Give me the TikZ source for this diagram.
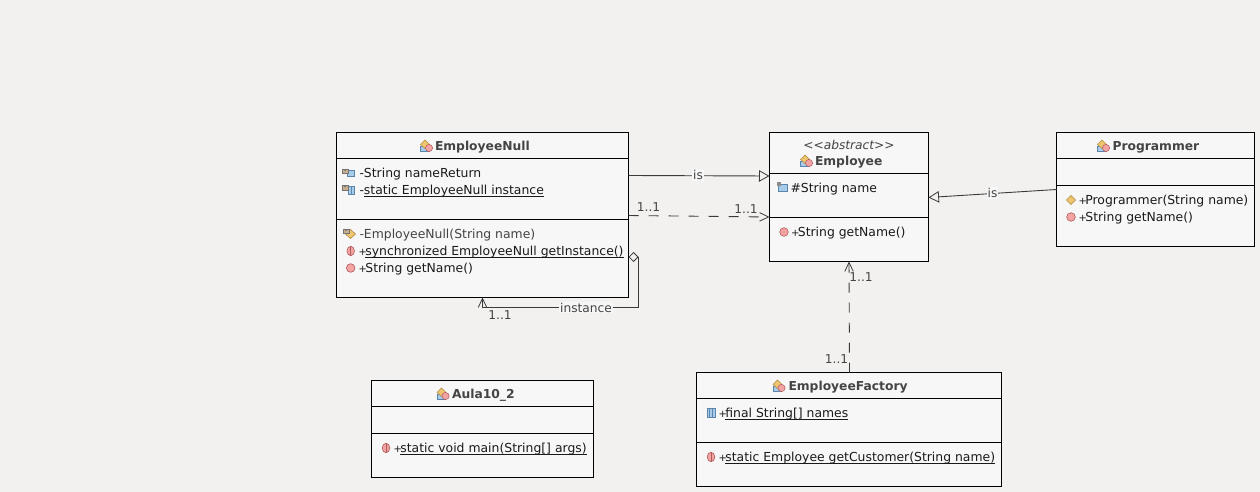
\documentclass[tikz,border=0pt]{standalone}
\usepackage{fontspec}
\setmainfont{DejaVu Sans}
\usetikzlibrary{arrows.meta,calc}
\definecolor{bgc}{HTML}{F2F1EF}
\definecolor{boxc}{HTML}{F7F7F7}
\definecolor{linec}{HTML}{3A3A3A}
\definecolor{textc}{HTML}{1A1A1A}
\definecolor{titlec}{HTML}{444444}
\definecolor{icoblue}{HTML}{A9CBEA}
\definecolor{icoblued}{HTML}{5A86AE}
\definecolor{icoyel}{HTML}{EFC56F}
\definecolor{icoyeld}{HTML}{B08A3C}
\definecolor{icored}{HTML}{F2A3A3}
\definecolor{icoredd}{HTML}{B05A5A}
\definecolor{icotan}{HTML}{C9B08E}
\newcommand{\ulx}[1]{\leavevmode\setbox0\hbox{#1}\rlap{#1}\rule[-2.4pt]{\wd0}{0.9pt}}
\newcommand{\plusk}{{\fontsize{10}{12}\selectfont +}\kern-1.5pt }
\newcommand{\umlbox}[7]{%
  \pgfmathsetlengthmacro{\bw}{#4-#2}\pgfmathsetlengthmacro{\bh}{#5-#3}%
  \node[umlclass,minimum width=\bw,minimum height=\bh] (#1) at (#2,#3) {};
  \draw[umlline] (#1.west |- 0,#6) -- (#1.east |- 0,#6);
  \draw[umlline] (#1.west |- 0,#7) -- (#1.east |- 0,#7);
}
\tikzset{
  umlclass/.style={draw=black,fill=boxc,line width=1pt,anchor=north west,inner sep=0pt,outer sep=0pt,rectangle},
  umlline/.style={draw=black,line width=1pt},
  member/.style={anchor=base west,inner sep=0pt,outer sep=0pt,text=textc,font=\fontsize{12.4}{14}\selectfont},
  graymember/.style={member,text=titlec},
  title/.style={anchor=base west,inner sep=0pt,outer sep=0pt,text=titlec,font=\fontsize{12.3}{14}\selectfont\bfseries},
  stereo/.style={anchor=base,inner sep=0pt,outer sep=0pt,text=titlec,font=\fontsize{12.2}{14}\selectfont\itshape},
  conlabel/.style={inner sep=1pt,outer sep=0pt,text=titlec,font=\fontsize{12.2}{14}\selectfont},
  conlabelbg/.style={conlabel,fill=boxc},
  conn/.style={draw=linec,line width=.9pt},
  genline/.style={conn,-{Triangle[open,length=10.5pt,width=11.5pt,line width=.8pt]}},
  depline/.style={conn,dash pattern=on 10pt off 10pt,-{Straight Barb[length=9pt,width=8.5pt,line width=.8pt]}},
  aggline/.style={conn,{Diamond[open,length=10pt,width=10pt,line width=.8pt]}-{Straight Barb[length=9pt,width=8.5pt,line width=.8pt]}},
  pics/clsicon/.style={code={
    \fill[icoblue,draw=icoblued,line width=.5pt] (-6,0) rectangle (2.5,5.5);
    \fill[icoyel,draw=icoyeld,line width=.5pt] (-1.5,-6) -- (3,-1.5) -- (-1.5,2.5) -- (-6,-1.5) -- cycle;
    \fill[icored,draw=icoredd,line width=.5pt] (2.5,2) circle (3.6);
  }},
  pics/mpub/.style={code={\fill[icored,draw=icoredd,line width=.6pt] (0,0) circle (4.3);}},
  pics/mstatic/.style={code={
    \fill[icored,draw=icoredd,line width=.6pt] (0,0) ellipse (3.8 and 4.7);
    \draw[icoredd,line width=.5pt] (0,-4.2) -- (0,4.2);
  }},
  pics/ctorpub/.style={code={\fill[icoyel,draw=icoyeld,line width=.6pt] (0,-4.5) -- (4.5,0) -- (0,4.5) -- (-4.5,0) -- cycle;}},
  pics/lockhead/.style={code={
    \fill[icotan,draw=black!55,line width=.5pt] (-2.8,-2.5) rectangle (2.8,2);
    \draw[black!55,line width=.7pt] (-1.6,-2.5) arc[start angle=180,end angle=0,radius=1.6];
  }},
  pics/ffield/.style={code={
    \fill[icoblue,draw=icoblued,line width=.6pt] (-4,-4.5) rectangle (4,4.5);
    \draw[icoblued,line width=.6pt] (-1.3,-4.5) -- (-1.3,4.5) (1.3,-4.5) -- (1.3,4.5);
  }},
  pics/privfield/.style={code={
    \fill[icoblue,draw=icoblued,line width=.6pt] (-1,-2.5) rectangle (6.5,4);
    \pic at (-3,-1) {lockhead};
  }},
  pics/privstatic/.style={code={
    \fill[icoblue,draw=icoblued,line width=.6pt] (0,-3.5) rectangle (6,5);
    \draw[icoblued,line width=.6pt] (3,-3.5) -- (3,5);
    \pic at (-3,-1.5) {lockhead};
  }},
  pics/protfield/.style={code={
    \fill[icoblue,draw=icoblued,line width=.6pt] (-3.5,-3) rectangle (5,4.5);
    \fill[black!45] (-5,-5) rectangle (-1.5,-1.5);
  }},
  pics/ctorpriv/.style={code={
    \fill[icoyel,draw=icoyeld,line width=.6pt] (1.5,-3.5) -- (6.5,1) -- (1.5,5.5) -- (-3.5,1) -- cycle;
    \pic at (-3,-1.5) {lockhead};
  }},
}
\begin{document}
\begin{tikzpicture}[x=1pt,y=-1pt]
\useasboundingbox[fill=bgc] (0,0) rectangle (1260,492);
% --- class boxes
\umlbox{en}{336.5}{132.5}{628.5}{297.5}{158.5}{219.5}
\umlbox{em}{769.5}{132.5}{928.5}{261.5}{173.5}{217.5}
\umlbox{pr}{1056.5}{132.5}{1254.5}{246.5}{158.5}{185.5}
\umlbox{fa}{696.5}{372.5}{1001.5}{486.5}{398.5}{442.5}
\umlbox{au}{371.5}{380.5}{593.5}{477.5}{406.5}{433.5}
% --- connectors
\draw[genline] (en.east |- 0,175.5) -- (em.west |- 0,176);
\draw[genline] (pr.west |- 0,189.5) -- (em.east |- 0,197.5);
\draw[depline] (en.east |- 0,215.5) -- (em.west |- 0,217);
\draw[depline] (fa.north -| 849.5,0) -- (em.south -| 849,0);
\draw[aggline] (en.east |- 0,257) -- (638.5,257) -- (638.5,307.5) -- (482.5,307.5) -- (en.south -| 482.5,0);
% --- connector labels
\node[conlabelbg] (l1) at (698,175) {is};
\node[conlabelbg] (l2) at (992.5,193) {is};
\node[conlabelbg] (l3) at (586,307.5) {instance};
\node[conlabel] (l4) at (648.5,207.5) {1..1};
\node[conlabel] (l5) at (746,209) {1..1};
\node[conlabel] (l6) at (500,315.5) {1..1};
\node[conlabel] (l7) at (861,277.5) {1..1};
\node[conlabel] (l8) at (836.5,359) {1..1};
% --- titles
\pic at (426.5,146) {clsicon};
\node[title] (t1) at (435,150) {EmployeeNull};
\node[stereo] (t2s) at (849,149.5) {<{}<abstract>{}>};
\pic at (806.5,161) {clsicon};
\node[title] (t2) at (815,165) {Employee};
\pic at (1103.5,146) {clsicon};
\node[title] (t3) at (1112.5,150) {Programmer};
\pic at (779,386) {clsicon};
\node[title] (t4) at (788.5,390) {EmployeeFactory};
\pic at (443,394) {clsicon};
\node[title] (t5) at (452,398) {Aula10\_2};
% --- EmployeeNull members
\pic at (348,172.5) {privfield};
\node[member] (m1) at (359.5,177) {-String nameReturn};
\pic at (348,189.5) {privstatic};
\node[member] (m2) at (359.5,194) {-\ulx{static EmployeeNull instance}};
\pic at (349,233) {ctorpriv};
\node[graymember] (m3) at (359.5,238) {-EmployeeNull(String name)};
\pic at (350.7,251) {mstatic};
\node[member] (m4) at (358.5,255) {\plusk\ulx{synchronized EmployeeNull getInstance()}};
\pic at (350.7,268) {mpub};
\node[member] (m5) at (358.5,272) {\plusk String getName()};
% --- Employee members
\pic at (782,187) {protfield};
\node[member] (m6) at (790.5,192) {\#String name};
\pic at (784,232) {mpub};
\node[member] (m7) at (791,236) {\plusk String getName()};
% --- Programmer members
\pic at (1071,200) {ctorpub};
\node[member] (m8) at (1078.5,204) {\plusk Programmer(String name)};
\pic at (1071,217) {mpub};
\node[member] (m9) at (1078.5,221) {\plusk String getName()};
% --- Factory members
\pic at (711,412.5) {ffield};
\node[member] (m10) at (718.5,417) {\plusk\ulx{final String[] names}};
\pic at (711,457) {mstatic};
\node[member] (m11) at (718.5,461) {\plusk\ulx{static Employee getCustomer(String name)}};
% --- Aula members
\pic at (386,448) {mstatic};
\node[member] (m12) at (393.5,452) {\plusk\ulx{static void main(String[] args)}};
\end{tikzpicture}
\end{document}
